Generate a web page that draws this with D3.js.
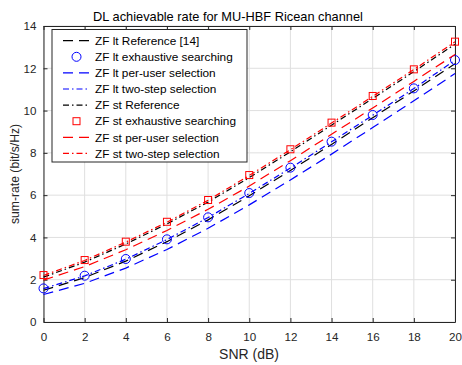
<!DOCTYPE html>
<html><head><meta charset="utf-8">
<script src="https://cdn.jsdelivr.net/npm/d3@7"></script>
<style>body{margin:0;background:#fff}svg{display:block;font-family:"Liberation Sans",Arial,sans-serif}</style>
</head><body><svg id="c" width="462" height="365"></svg>
<script>
const snr = [0,2,4,6,8,10,12,14,16,18,20];
const xTicks = [0,2,4,6,8,10,12,14,16,18,20];
const yTicks = [0,2,4,6,8,10,12,14];
const ltRef      = [1.50,2.10,2.88,3.80,4.83,5.97,7.17,8.40,9.66,10.93,12.22];
const ltExh      = [1.59,2.19,2.98,3.91,4.95,6.10,7.30,8.53,9.79,11.05,12.39];
const ltPerUser  = [1.30,1.83,2.55,3.43,4.43,5.54,6.72,7.94,9.20,10.46,11.75];
const ltTwoStep  = [1.58,2.18,2.97,3.90,4.94,6.08,7.28,8.52,9.78,11.04,12.38];
const stRef      = [2.12,2.83,3.69,4.64,5.67,6.83,8.05,9.31,10.57,11.84,13.14];
const stExh      = [2.22,2.93,3.80,4.74,5.77,6.95,8.17,9.43,10.69,11.95,13.26];
const stPerUser  = [1.98,2.62,3.42,4.33,5.33,6.43,7.63,8.88,10.12,11.38,12.65];
const stTwoStep  = [2.20,2.91,3.78,4.72,5.76,6.93,8.15,9.41,10.67,11.94,13.25];
const names = ["ZF lt Reference [14]","ZF lt exhaustive searching","ZF lt per-user selection","ZF lt two-step selection",
  "ZF st Reference","ZF st exhaustive searching","ZF st per-user selection","ZF st two-step selection"];

const DASH = "10,6", DASHDOT = "6,3,1.5,3";
const series = [
  {name:names[0], v:ltRef, color:"#000", dash:DASH, marker:null},
  {name:names[1], v:ltExh, color:"#0000ff", dash:null, marker:"circle"},
  {name:names[2], v:ltPerUser, color:"#0000ff", dash:DASH, marker:null},
  {name:names[3], v:ltTwoStep, color:"#0000ff", dash:DASHDOT, marker:null},
  {name:names[4], v:stRef, color:"#000", dash:DASHDOT, marker:null},
  {name:names[5], v:stExh, color:"#ff0000", dash:null, marker:"square"},
  {name:names[6], v:stPerUser, color:"#ff0000", dash:DASH, marker:null},
  {name:names[7], v:stTwoStep, color:"#ff0000", dash:DASHDOT, marker:null}
];

const L=43.5, R=455, T=26, B=322;
const x = d3.scaleLinear().domain([0,20]).range([L,R]);
const y = d3.scaleLinear().domain([0,14]).range([B,T]);
const svg = d3.select("#c");
const txt = "#262626", axc = "#262626";

// grid
svg.append("g").selectAll("line").data(xTicks).join("line")
  .attr("x1",d=>x(d)).attr("x2",d=>x(d)).attr("y1",T).attr("y2",B)
  .attr("stroke","#dfdfdf").attr("stroke-width",1);
svg.append("g").selectAll("line").data(yTicks).join("line")
  .attr("y1",d=>y(d)).attr("y2",d=>y(d)).attr("x1",L).attr("x2",R)
  .attr("stroke","#dfdfdf").attr("stroke-width",1);

// axes
const ax = g => g.selectAll("text").attr("fill",txt).style("font-size","11.6px").style("font-family","Liberation Sans, Arial, sans-serif");
svg.append("g").attr("transform",`translate(0,${B})`)
  .call(d3.axisBottom(x).tickValues(xTicks).tickSize(-4).tickPadding(11).tickSizeOuter(0))
  .call(g=>{g.select(".domain").attr("stroke",axc);g.selectAll("line").attr("stroke",axc);ax(g);});
svg.append("g").attr("transform",`translate(0,${T})`)
  .call(d3.axisTop(x).tickValues(xTicks).tickSize(-4).tickFormat("").tickSizeOuter(0))
  .call(g=>{g.select(".domain").attr("stroke",axc);g.selectAll("line").attr("stroke",axc);});
svg.append("g").attr("transform",`translate(${L},0)`)
  .call(d3.axisLeft(y).tickValues(yTicks).tickSize(-4).tickPadding(7).tickSizeOuter(0))
  .call(g=>{g.select(".domain").attr("stroke",axc);g.selectAll("line").attr("stroke",axc);ax(g);});
svg.append("g").attr("transform",`translate(${R},0)`)
  .call(d3.axisRight(y).tickValues(yTicks).tickSize(-4).tickFormat("").tickSizeOuter(0))
  .call(g=>{g.select(".domain").attr("stroke",axc);g.selectAll("line").attr("stroke",axc);});

// lines
const line = d3.line().x((d,i)=>x(snr[i])).y(d=>y(d));
series.forEach(s=>{
  if(!s.marker){
    svg.append("path").datum(s.v).attr("d",line).attr("fill","none")
      .attr("stroke",s.color).attr("stroke-width",1.2).attr("stroke-dasharray",s.dash);
  } else if(s.marker==="circle"){
    svg.append("g").selectAll("circle").data(s.v).join("circle")
      .attr("cx",(d,i)=>x(snr[i])).attr("cy",d=>y(d)).attr("r",4.5)
      .attr("fill","none").attr("stroke",s.color).attr("stroke-width",1);
  } else {
    svg.append("g").selectAll("rect").data(s.v).join("rect")
      .attr("x",(d,i)=>x(snr[i])-3.5).attr("y",d=>y(d)-3.5).attr("width",7).attr("height",7)
      .attr("fill","none").attr("stroke",s.color).attr("stroke-width",1);
  }
});

// legend
const lg = svg.append("g");
lg.append("rect").attr("x",52).attr("y",29.5).attr("width",195).attr("height",132.5)
  .attr("fill","#fff").attr("stroke","#262626").attr("stroke-width",1);
series.forEach((s,i)=>{
  const yy = 40.7 + i*16.1;
  if(!s.marker){
    lg.append("line").attr("x1",63).attr("x2",90).attr("y1",yy).attr("y2",yy)
      .attr("stroke",s.color).attr("stroke-width",1.2).attr("stroke-dasharray",s.dash);
  } else if(s.marker==="circle"){
    lg.append("circle").attr("cx",76.5).attr("cy",yy).attr("r",4.5).attr("fill","none").attr("stroke",s.color);
  } else {
    lg.append("rect").attr("x",73).attr("y",yy-3.5).attr("width",7).attr("height",7).attr("fill","none").attr("stroke",s.color);
  }
  lg.append("text").attr("x",95).attr("y",yy+4.2).attr("fill","#000").style("font-size","11.8px").text(s.name);
});

// labels
svg.append("text").attr("x",228).attr("y",21).attr("text-anchor","middle").attr("fill","#000")
  .style("font-size","12.8px").text("DL achievable rate for MU-HBF Ricean channel");
svg.append("text").attr("x",249).attr("y",358.5).attr("text-anchor","middle").attr("fill",txt)
  .style("font-size","14px").text("SNR (dB)");
svg.append("text").attr("transform",`translate(19,${(T+B)/2}) rotate(-90)`).attr("text-anchor","middle").attr("fill",txt)
  .style("font-size","12.2px").text("sum-rate (bit/s/Hz)");
</script></body></html>
